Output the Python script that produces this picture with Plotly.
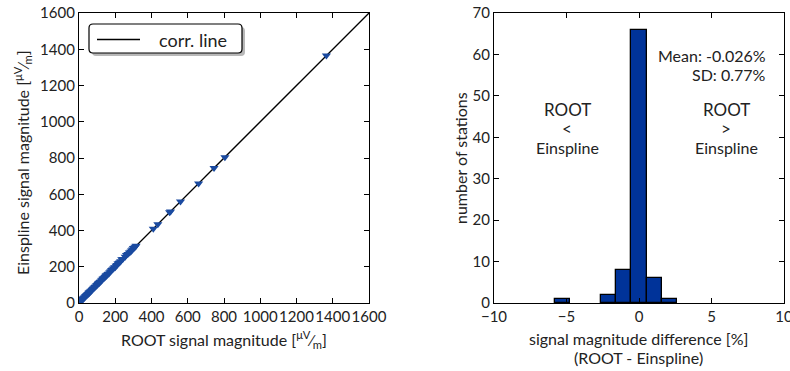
import plotly.graph_objects as go

# ---------------- data ----------------
root_vals = [8, 11, 14, 17, 18.5, 20, 23, 26, 29, 32, 35, 38, 41, 44, 47, 50, 53, 56, 57, 59,
             62, 65, 68, 72, 76, 80, 84, 88, 92, 96, 100, 104, 108, 110, 112, 116, 120, 124,
             128, 132, 136, 140, 144, 148, 150, 152, 156, 160, 165, 170, 175, 180, 185, 190,
             195, 200, 205, 210, 215, 220, 225, 230, 236, 242, 255, 262, 270, 278, 285, 290,
             295, 300, 305, 310, 315, 410, 435, 500, 505, 560, 660, 745, 805, 1365]
einspline_vals = [8.45, 11.2, 14.15, 17.0, 18.7, 20.0, 23.25, 26.0, 29.1, 32.0, 35.4, 38.0, 41.1,
                  44.0, 46.6, 50.1, 53.0, 56.6, 57.0, 59.1, 62.0, 64.3, 68.1, 72.0, 76.8, 80.1,
                  84.0, 88.1, 91.0, 96.1, 100.0, 105.1, 108.1, 110.0, 112.1, 116.0, 118.8, 124.1,
                  128.0, 133.4, 136.1, 140.0, 144.1, 148.0, 151.6, 152.1, 156.0, 160.2, 163.3,
                  170.1, 175.0, 181.9, 185.1, 190.0, 195.2, 197.9, 205.1, 210.0, 217.3, 220.1,
                  225.0, 230.2, 241.0, 242.1, 255.0, 264.8, 270.1, 278.0, 282.1, 290.2, 295.0,
                  303.2, 305.1, 310.0, 315.2, 410.3, 434.8, 500.2, 504.9, 560.1, 659.9, 745.2,
                  804.8, 1365.3]
corr_line = [0, 1600]

bin_centers = [-5.26, -2.11, -1.06, 0.0, 1.06, 2.11]
bin_counts = [1, 2, 8, 66, 6, 1]
bin_width = 1.057

left_ticks = [0, 200, 400, 600, 800, 1000, 1200, 1400, 1600]
hist_xticks = [-10, -5, 0, 5, 10]
hist_yticks = [0, 10, 20, 30, 40, 50, 60, 70]

mean_text = "Mean: -0.026%"
sd_text = "SD: 0.77%"

# ---------------- layout helpers ----------------
W, H = 790, 371
FONT = "Lato"
TXT = "#222"
def px(x):
    return x / W
def py(y):
    return (H - y) / H

BLUE = "#003399"

fig = go.Figure()

fig.add_trace(go.Scatter(x=corr_line, y=corr_line, mode="lines", name="corr. line",
                         line=dict(color="black", width=1.3), xaxis="x", yaxis="y",
                         showlegend=False))
fig.add_trace(go.Scatter(x=root_vals, y=einspline_vals, mode="markers", name="stations",
                         marker=dict(symbol="triangle-down", size=8, color="#1a4aa0",
                                     line=dict(width=0)),
                         xaxis="x", yaxis="y", showlegend=False))

fig.add_trace(go.Bar(x=bin_centers, y=bin_counts, width=bin_width,
                     marker=dict(color=BLUE, line=dict(color="black", width=1.3)),
                     xaxis="x2", yaxis="y2", showlegend=False))

axis_common = dict(showgrid=False, zeroline=False, showline=True, linecolor="black",
                   linewidth=1.3, mirror="ticks", ticks="inside", ticklen=5, tickwidth=1,
                   tickcolor="black", automargin=False, tickangle=0,
                   ticklabeloverflow="allow",
                   tickfont=dict(family=FONT, size=15, color=TXT))

fig.update_layout(
    width=W, height=H, margin=dict(l=0, r=0, t=0, b=0),
    paper_bgcolor="white", plot_bgcolor="white",
    font=dict(family=FONT, size=16, color=TXT),
    xaxis=dict(domain=[px(79), px(369)], range=[0, 1600], tickvals=left_ticks,
               anchor="y", **axis_common),
    yaxis=dict(domain=[py(303), py(13)], range=[0, 1600], tickvals=left_ticks,
               anchor="x", **axis_common),
    xaxis2=dict(domain=[px(494), px(784)], range=[-10, 10], tickvals=hist_xticks,
                anchor="y2", **axis_common),
    yaxis2=dict(domain=[py(303), py(13)], range=[0, 70], tickvals=hist_yticks,
                anchor="x2", **axis_common),
    bargap=0,
)

# legend box (rounded, with shadow)
def rounded(x0, y0, x1, y1, r):
    X = lambda v: px(v)
    Y = lambda v: py(v)
    return (f"M {X(x0+r)} {Y(y0)} L {X(x1-r)} {Y(y0)} Q {X(x1)} {Y(y0)} {X(x1)} {Y(y0+r)} "
            f"L {X(x1)} {Y(y1-r)} Q {X(x1)} {Y(y1)} {X(x1-r)} {Y(y1)} "
            f"L {X(x0+r)} {Y(y1)} Q {X(x0)} {Y(y1)} {X(x0)} {Y(y1-r)} "
            f"L {X(x0)} {Y(y0+r)} Q {X(x0)} {Y(y0)} {X(x0+r)} {Y(y0)} Z")

shapes = [
    dict(type="path", xref="paper", yref="paper", path=rounded(92, 27, 245, 56, 4),
         fillcolor="#b8b8b8", line=dict(width=0), layer="above"),
    dict(type="path", xref="paper", yref="paper", path=rounded(89, 24, 242, 53, 4),
         fillcolor="white", line=dict(color="black", width=1.2), layer="above"),
    dict(type="line", xref="paper", yref="paper", x0=px(97), x1=px(140), y0=py(39.5),
         y1=py(39.5), line=dict(color="black", width=1.3), layer="above"),
]

def A(text, x, y, xanchor="center", size=16, angle=0):
    return dict(text=text, x=px(x), y=py(y), xref="paper", yref="paper",
                xanchor=xanchor, yanchor="middle", showarrow=False, textangle=angle,
                font=dict(family=FONT, size=size, color=TXT))

ann = [
    A("corr. line", 157, 39.5, "left", 18),
    A("ROOT signal magnitude [<sup>μV</sup>⁄<sub>m</sub>]", 224, 339),
    A("Einspline signal magnitude [<sup>μV</sup>⁄<sub>m</sub>]", 22, 163, angle=-90),
    A("number of stations", 460, 158, angle=-90),
    A("signal magnitude difference [%]", 638, 338),
    A("(ROOT - Einspline)", 638, 357),
    A(mean_text, 768, 55, "right"),
    A(sd_text, 768, 74, "right"),
]
for cx, sym in [(567, "&lt;"), (726, "&gt;")]:
    ann += [
        A("ROOT", cx, 110, size=17),
        A(sym, cx, 129, size=17),
        A("Einspline", cx, 147),
    ]

fig.update_layout(shapes=shapes, annotations=ann)
fig.write_html("out.html")
